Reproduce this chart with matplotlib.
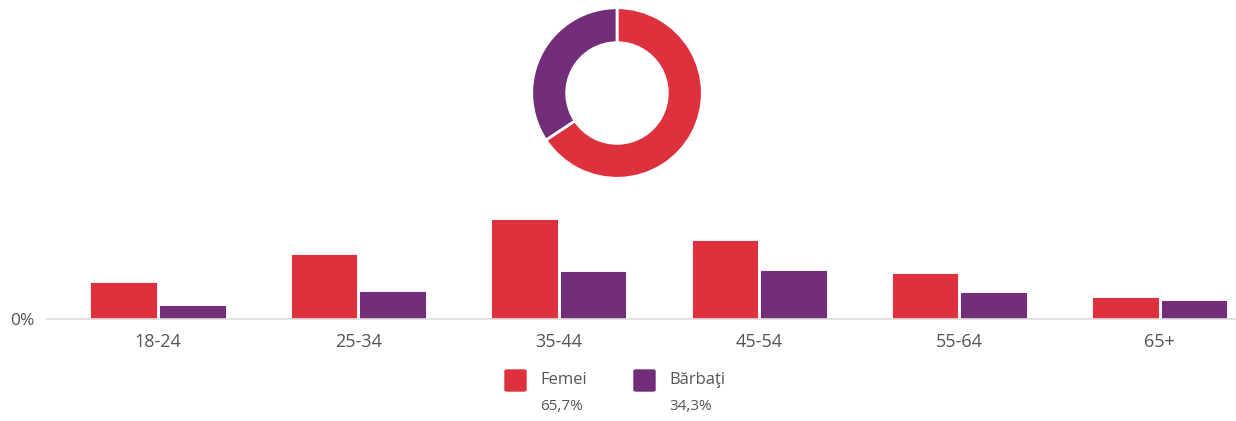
import matplotlib.pyplot as plt
from matplotlib.patches import FancyBboxPatch
import numpy as np

# data
groups = ["18-24", "25-34", "35-44", "45-54", "55-64", "65+"]
femei = [6.9, 12.2, 19.0, 14.9, 8.6, 4.1]
barbati = [2.5, 5.2, 9.0, 9.2, 5.0, 3.4]
series_names = ["Femei", "Bărbaţi"]
shares = [65.7, 34.3]
share_labels = ["65,7%", "34,3%"]

RED = "#DD323D"
PURPLE = "#732E79"
GREY = "#555555"

plt.rcParams['font.family'] = ['Open Sans', 'DejaVu Sans']

fig = plt.figure(figsize=(12.36, 4.21), dpi=100)

###############################################################################
# donut
###############################################################################
pax = fig.add_axes([0.4288, 0.5724, 0.1408, 0.4133])
pax.pie(shares, colors=[RED, PURPLE], startangle=90, counterclock=False,
        radius=1, wedgeprops=dict(width=0.41, edgecolor="white", linewidth=2))
pax.set_xlim(-1.02, 1.02)
pax.set_ylim(-1.02, 1.02)
pax.set_aspect("equal")
pax.axis("off")

###############################################################################
# bars
###############################################################################
ax = fig.add_axes([0.038, 0.2423, 0.962, 0.2827])
x = np.arange(len(groups))
w = 0.322
off = 0.171
ax.bar(x - off, femei, w, color=RED, edgecolor=RED, linewidth=0.8, joinstyle="round")
ax.bar(x + off, barbati, w, color=PURPLE, edgecolor=PURPLE, linewidth=0.8, joinstyle="round")

ax.set_xlim(-0.554, 5.38)
ax.set_ylim(0, 22.75)
for s in ["top", "right", "left"]:
    ax.spines[s].set_visible(False)
ax.spines["bottom"].set_color("#dddddd")
ax.spines["bottom"].set_linewidth(1.2)
ax.set_xticks(x)
ax.set_xticklabels(groups, fontsize=13, color=GREY)
ax.tick_params(axis="x", length=0, pad=10)
ax.set_yticks([])
fig.text(10 / 1236, 1 - 321 / 421, "0%", fontsize=12.5, color=GREY, va="center", ha="left")

###############################################################################
# legend
###############################################################################
leg_x = [505, 634]
for i, name in enumerate(series_names):
    col = [RED, PURPLE][i]
    x0 = leg_x[i] / 1236
    sq = FancyBboxPatch((x0, 1 - 391 / 421), 21 / 1236, 21 / 421,
                        boxstyle="round,pad=0,rounding_size=0.002",
                        transform=fig.transFigure, facecolor=col, edgecolor=col)
    fig.patches.append(sq)
    fig.text((leg_x[i] + 35) / 1236, 1 - 380 / 421, name, fontsize=12, color=GREY,
             va="center", ha="left")
    fig.text((leg_x[i] + 35) / 1236, 1 - 406 / 421, share_labels[i], fontsize=11,
             color=GREY, va="center", ha="left")

fig.savefig("out.png", dpi=100, facecolor="white")
